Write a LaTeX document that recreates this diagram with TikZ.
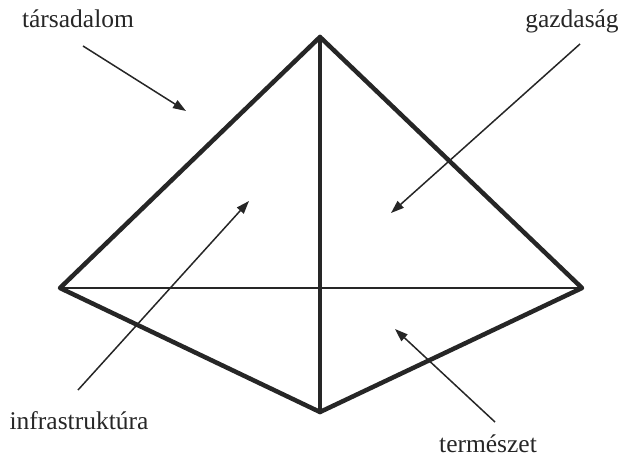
\documentclass[tikz,border=0pt]{standalone}
\usepackage{fontspec}
\setmainfont{Liberation Serif}
\usetikzlibrary{arrows.meta}
\begin{document}
\begin{tikzpicture}[x=1pt,y=-1pt,
  edgethick/.style={line width=4.5pt,line join=round,line cap=round,black!85},
  edgethin/.style={line width=1.8pt,black!85},
  pointer/.style={line width=1.5pt,black!85,-{Triangle[length=13pt,width=9pt]}},
  lbl/.style={font=\fontsize{25.5}{28}\selectfont,text=black!85,inner sep=0pt}]
\useasboundingbox (0,0) rectangle (623,465);
\coordinate (T) at (320,37);
\coordinate (L) at (60,288);
\coordinate (R) at (582,288);
\coordinate (B) at (320,412);
\draw[edgethin] (L) -- (R);
\draw[edgethick] (L) -- (T) -- (R) -- (B) -- cycle;
\draw[edgethick] (T) -- (B);
\node[lbl] (tars) at (78,19) {társadalom};
\node[lbl] (gazd) at (572,21) {gazdaság};
\node[lbl] (infr) at (79,421) {infrastruktúra};
\node[lbl] (term) at (488,444) {természet};
\coordinate (a1s) at (83,46);
\coordinate (a1e) at (186,111);
\coordinate (a2s) at (580,44);
\coordinate (a2e) at (391,213);
\coordinate (a3s) at (78,390);
\coordinate (a3e) at (249,201);
\coordinate (a4s) at (495,422);
\coordinate (a4e) at (395,329);
\draw[pointer] (a1s) -- (a1e);
\draw[pointer] (a2s) -- (a2e);
\draw[pointer] (a3s) -- (a3e);
\draw[pointer] (a4s) -- (a4e);
\end{tikzpicture}
\end{document}
